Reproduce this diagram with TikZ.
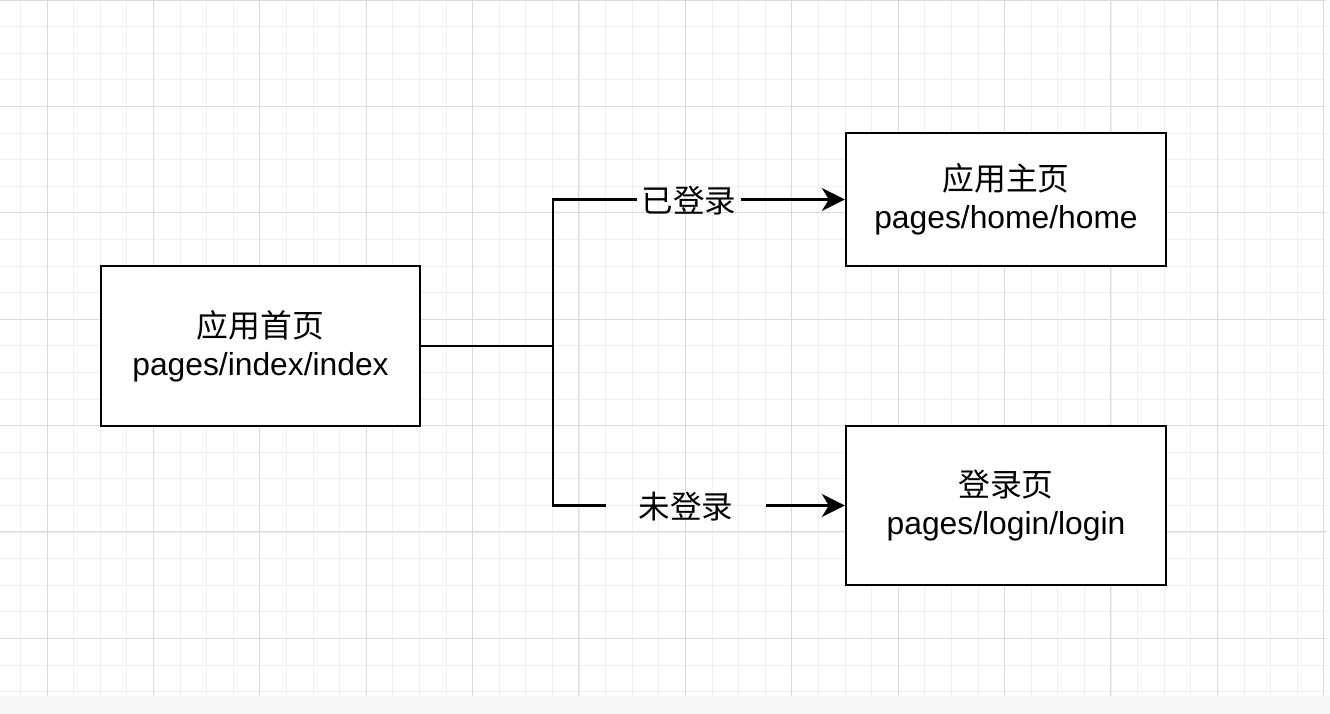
\documentclass[tikz,border=0pt]{standalone}
\usepackage{fontspec}
\setmainfont{Liberation Sans}
\newfontfamily\cjk{Noto Sans CJK SC}
\usetikzlibrary{arrows.meta}
\definecolor{minorgrid}{HTML}{EFEFEF}
\definecolor{majorgrid}{HTML}{DADADA}
\definecolor{stripgray}{HTML}{F7F7F7}
\tikzset{
  minorline/.style={draw=minorgrid, line width=1.3pt},
  majorline/.style={draw=majorgrid, line width=1.5pt},
  pagebox/.style={draw=black, fill=white, line width=2.4pt, align=center,
    font=\fontsize{31.8}{38}\selectfont, inner sep=0pt},
  lbl/.style={font=\cjk\fontsize{31.5}{38}\selectfont, inner ysep=0pt},
  conn/.style={draw=black, line width=2.4pt},
  arr/.style={conn, -{Stealth[length=23pt, width=23pt, inset=7pt]}}
}
\begin{document}
\begin{tikzpicture}[x=1pt, y=-1pt]
\fill[white] (0,0) rectangle (1330,714);
\useasboundingbox (0,0) rectangle (1330,714);
% grid
\foreach \k in {-1,...,48} {
  \pgfmathsetmacro{\gx}{int(47+26.6*\k)+0.5}
  \draw[minorline] (\gx,0) -- (\gx,696);}
\foreach \k in {0,...,26} {
  \pgfmathsetmacro{\gy}{int(26.6*\k)+0.5}
  \draw[minorline] (0,\gy) -- (1326,\gy);}
\foreach \k in {0,...,12} {
  \pgfmathsetmacro{\gx}{int(47+106.4*\k)+0.5}
  \draw[majorline] (\gx,0) -- (\gx,696);}
\foreach \k in {0,...,6} {
  \pgfmathsetmacro{\gy}{int(106.4*\k)+0.5}
  \draw[majorline] (0,\gy) -- (1326,\gy);}
\fill[stripgray] (0,696) rectangle (1330,714);
% nodes
\node[pagebox, minimum width=319pt, minimum height=160pt] (idx) at (260.5,346)
  {{\cjk 应用首页}\\pages/index/index};
\node[pagebox, minimum width=320pt, minimum height=133pt] (home) at (1006,199.5)
  {{\cjk 应用主页}\\pages/home/home};
\node[pagebox, minimum width=320pt, minimum height=159pt] (login) at (1006,505.5)
  {{\cjk 登录页}\\pages/login/login};
\node[lbl, inner xsep=5pt] (l1) at (689,201) {已登录};
\node[lbl, inner xsep=33pt] (l2) at (686,507) {未登录};
\coordinate (jt) at (553,199.5);
\coordinate (jb) at (553,505.5);
% connectors
\draw[conn] (idx.east) -| (jt) -- (jt -| l1.west);
\draw[conn] (idx.east) -| (jb) -- (jb -| l2.west);
\draw[arr] (jt -| l1.east) -- (home.west);
\draw[arr] (jb -| l2.east) -- (login.west);
\end{tikzpicture}
\end{document}
